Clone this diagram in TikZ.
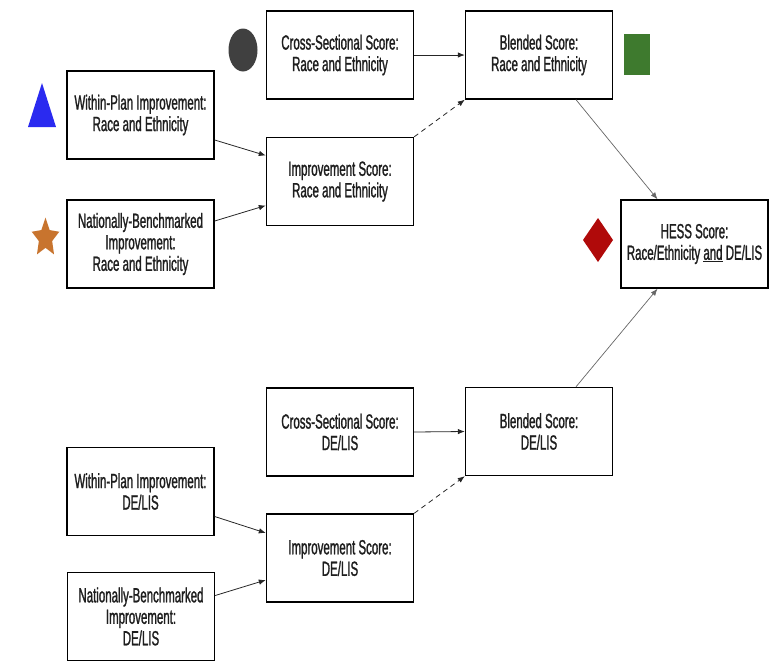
\documentclass[tikz,border=0pt]{standalone}
\usepackage{fontspec}
\setmainfont{Liberation Sans}[FakeStretch=0.56,FakeBold=1.2]
\usetikzlibrary{arrows.meta,shapes.geometric}
\definecolor{txt}{HTML}{1E1E1E}
\definecolor{circ}{HTML}{404040}
\definecolor{tri}{HTML}{2A2AF0}
\definecolor{starc}{HTML}{C8742E}
\definecolor{sq}{HTML}{3E7A2E}
\definecolor{dia}{HTML}{B00A0A}
\tikzset{
  box/.style={draw=black, line width=1.4pt, minimum width=147pt, minimum height=88pt,
    inner sep=0pt, align=center, text=txt, font=\fontsize{20.5}{21.5}\selectfont},
  arr/.style={-{Latex[length=7pt,width=5.5pt]}, line width=0.8pt, draw=black!85},
  darr/.style={arr, dash pattern=on 5pt off 4pt},
  garr/.style={-{Latex[length=7pt,width=5.5pt]}, line width=0.7pt, draw=black!60},
}
\begin{document}
\begin{tikzpicture}[x=1pt,y=-1pt]
\useasboundingbox (0,0) rectangle (775,662);
% top group
\node[box] (csR) at (340,55) {Cross-Sectional Score:\\Race and Ethnicity};
\node[box] (blR) at (539,55) {Blended Score:\\Race and Ethnicity};
\node[box] (wpR) at (140.5,115) {Within-Plan Improvement:\\Race and Ethnicity};
\node[box] (imR) at (340,181.5) {Improvement Score:\\Race and Ethnicity};
\node[box] (nbR) at (140.5,244) {Nationally-Benchmarked\\Improvement:\\Race and Ethnicity};
\node[box] (hess) at (694.5,244) {HESS Score:\\Race/Ethnicity \underline{and} DE/LIS};
% bottom group
\node[box] (csD) at (340,432) {Cross-Sectional Score:\\DE/LIS};
\node[box] (blD) at (539,431.5) {Blended Score:\\DE/LIS};
\node[box] (wpD) at (140.5,491.5) {Within-Plan Improvement:\\DE/LIS};
\node[box] (imD) at (340,558) {Improvement Score:\\DE/LIS};
\node[box] (nbD) at (141,616.5) {Nationally-Benchmarked\\Improvement:\\DE/LIS};
% symbols
\fill[circ] (243,50) ellipse [x radius=14.5, y radius=21.5];
\fill[tri] (28,127) -- (56,127) -- (42,83) -- cycle;
\begin{scope}[shift={(45.5,238)}, yscale=1.4]
\fill[starc] (-90:14.5) \foreach \k in {0,...,4} { -- ({-54+72*\k}:7) -- ({-18+72*\k}:14.5) } -- cycle;
\end{scope}
\fill[sq] (624,34) rectangle (650,75);
\fill[dia] (598,218) -- (613,240) -- (598,262) -- (583,240) -- cycle;
% connectors top
\draw[arr] (csR.east) -- (blR.west);
\draw[darr] (imR.north east) -- (blR.south west);
\draw[arr] ([yshift=-25pt]wpR.east) -- ([yshift=26pt]imR.west);
\draw[arr] ([yshift=23pt]nbR.east) -- ([yshift=-24pt]imR.west);
\draw[garr] ([xshift=37pt]blR.south) -- ([xshift=-37pt]hess.north);
% connectors bottom
\draw[arr] (csD.east) -- (blD.west);
\draw[darr] (imD.north east) -- (blD.south west);
\draw[arr] ([yshift=-25pt]wpD.east) -- ([yshift=25pt]imD.west);
\draw[arr] ([yshift=21pt]nbD.east) -- ([yshift=-22pt]imD.west);
\draw[garr] ([xshift=37pt]blD.north) -- ([xshift=-37pt]hess.south);
\end{tikzpicture}
\end{document}
